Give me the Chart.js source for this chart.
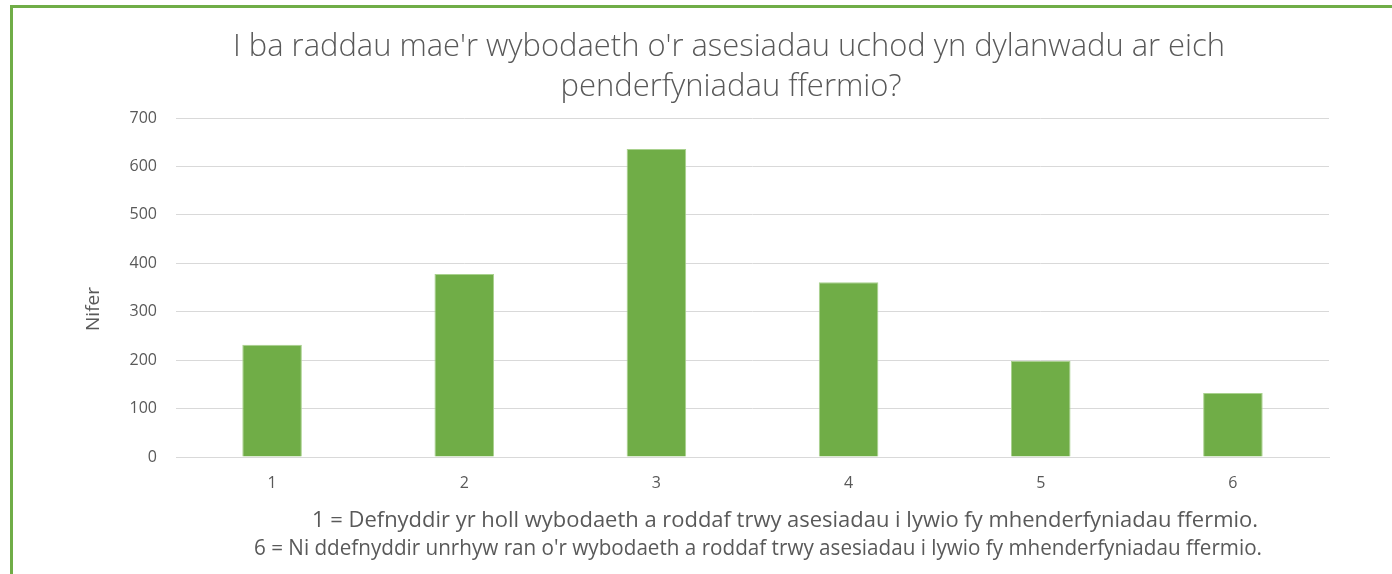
<!DOCTYPE html>
<html>
<head>
<meta charset="utf-8">
<script src="https://cdn.jsdelivr.net/npm/chart.js@4"></script>
<style>
  html, body { margin: 0; padding: 0; background: #fff; }
  #wrap { position: relative; width: 1392px; height: 574px; overflow: hidden; }
  #frame { position: absolute; left: 10px; top: 5px; width: 1400px; height: 600px;
           border-left: 3px solid #70ad47; border-top: 3px solid #70ad47; }
  canvas { position: absolute; left: 0; top: 0; }
</style>
</head>
<body>
<div id="wrap">
  <div id="frame"></div>
  <canvas id="grafico" width="1392" height="574"></canvas>
</div>
<script>
let categorias = ["1", "2", "3", "4", "5", "6"];
let valores = [232, 378, 636, 361, 199, 132];
let ticksY = [0, 100, 200, 300, 400, 500, 600, 700];

let titulo = ["I ba raddau mae'r wybodaeth o'r asesiadau uchod yn dylanwadu ar eich", "penderfyniadau ffermio?"];
let ejeY = "Nifer";
let notas = [
  "1 = Defnyddir yr holl wybodaeth a roddaf trwy asesiadau i lywio fy mhenderfyniadau ffermio.",
  "6 = Ni ddefnyddir unrhyw ran o'r wybodaeth a roddaf trwy asesiadau i lywio fy mhenderfyniadau ffermio."
];

let gris = "#595959";

// textos de titulo, eje y notas
let textos = {
  id: "textos",
  afterDraw(chart) {
    let ctx = chart.ctx;
    ctx.save();
    ctx.fillStyle = gris;
    ctx.textAlign = "center";
    ctx.textBaseline = "middle";

    ctx.font = "300 31px 'Open Sans'";
    ctx.fillText(titulo[0], 729, 47, 992);
    ctx.fillText(titulo[1], 731, 87, 346);

    ctx.font = "22px 'Open Sans'";
    ctx.fillText(notas[0], 785, 521, 946);
    ctx.fillText(notas[1], 758, 549, 1008);

    ctx.save();
    ctx.translate(94, 309);
    ctx.rotate(-Math.PI / 2);
    ctx.font = "19px 'Open Sans'";
    ctx.fillText(ejeY, 0, 0);
    ctx.restore();

    ctx.restore();
  }
};

new Chart(document.getElementById("grafico").getContext("2d"), {
  type: "bar",
  data: {
    labels: categorias,
    datasets: [{
      label: "Nifer",
      data: valores,
      backgroundColor: "#70ad47",
      borderColor: "#a9d18e",
      borderWidth: 1,
      categoryPercentage: 1,
      barPercentage: 0.31
    }]
  },
  options: {
    responsive: false,
    animation: false,
    layout: { padding: { top: 118, right: 63, left: 0, bottom: 0 } },
    plugins: {
      legend: { display: false },
      title: { display: false },
      tooltip: { enabled: false }
    },
    scales: {
      x: {
        grid: { display: false, drawTicks: false },
        border: { display: true, color: "#d9d9d9", width: 1 },
        ticks: { color: gris, font: { family: "Open Sans", size: 16 }, padding: 17 },
        afterFit(scale) { scale.height = 574 - 457; }
      },
      y: {
        min: 0,
        max: 700,
        afterBuildTicks(scale) { scale.ticks = ticksY.map(v => ({ value: v })); },
        grid: { color: "#d9d9d9", lineWidth: 1, drawTicks: false },
        border: { display: false },
        ticks: { color: gris, font: { family: "Open Sans", size: 16 }, padding: 19 },
        afterFit(scale) { scale.width = 176; }
      }
    }
  },
  plugins: [textos]
});
</script>
</body>
</html>
